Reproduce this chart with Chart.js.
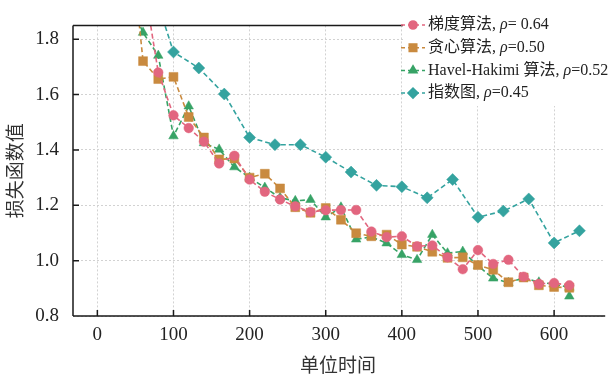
<!DOCTYPE html>
<html><head><meta charset="utf-8">
<script src="https://cdn.jsdelivr.net/npm/chart.js@4/dist/chart.umd.min.js"></script>
<style>html,body{margin:0;padding:0;background:#fff;overflow:hidden}canvas{display:block}</style>
</head><body>
<canvas id="c" width="610" height="379"></canvas>
<script>
// ---- data ----
const seriesNames = ['梯度算法', '贪心算法', 'Havel-Hakimi 算法', '指数图'];
const rhoTexts = ['= 0.64', '=0.50', '=0.52', '=0.45'];

const gradX = [60,80,100,120,140,160,180,200,220,240,260,280,300,320,340,360,380,400,420,440,460,480,500,520,540,560,580,600,620];
const gradY = [2.02,1.68,1.525,1.479,1.43,1.351,1.379,1.293,1.249,1.221,1.196,1.176,1.182,1.183,1.183,1.105,1.085,1.088,1.052,1.055,1.012,0.969,1.038,0.988,1.003,0.942,0.916,0.919,0.911];

const greedyX = [40,60,80,100,120,140,160,180,200,220,240,260,280,300,320,340,360,380,400,420,440,460,480,500,520,540,560,580,600,620];
const greedyY = [2.26,1.721,1.656,1.664,1.519,1.445,1.366,1.369,1.30,1.314,1.261,1.193,1.173,1.19,1.148,1.099,1.088,1.094,1.058,1.05,1.032,1.01,1.012,0.984,0.967,0.922,0.939,0.911,0.905,0.902];

const havelX = [40,60,80,100,120,140,160,180,200,220,240,260,280,300,320,340,360,380,400,420,440,460,480,500,520,540,560,580,600,620,620];
const havelY = [1.95,1.824,1.741,1.45,1.558,1.425,1.402,1.338,1.30,1.264,1.227,1.216,1.22,1.157,1.193,1.077,1.086,1.063,1.021,1.003,1.094,1.027,1.033,0.981,0.936,0.92,0.938,0.922,0.915,0.903,0.871];

const expX = [66.7,100,133.3,166.7,200,233.3,266.7,300,333.3,366.7,400,433.3,466.7,500,533.3,566.7,600,633.3];
const expY = [2.04,1.754,1.696,1.602,1.445,1.419,1.419,1.374,1.320,1.272,1.267,1.227,1.293,1.157,1.179,1.223,1.064,1.108];

const xTickValues = [0, 100, 200, 300, 400, 500, 600];
const yTickValues = [0.8, 1.0, 1.2, 1.4, 1.6, 1.8];

// ---- styling ----
const colors = ['#e2667f', '#c98a3f', '#37a366', '#34a39f'];
const styles = ['circle', 'rect', 'triangle', 'rectRot'];
const radii = [4.8, 6.3, 5.5, 6];
const xsAll = [gradX, greedyX, havelX, expX];
const ysAll = [gradY, greedyY, havelY, expY];

const datasets = seriesNames.map((n, i) => ({
  label: n,
  data: xsAll[i].map((x, k) => ({x: x, y: ysAll[i][k]})),
  borderColor: colors[i],
  backgroundColor: colors[i],
  pointBackgroundColor: colors[i],
  pointBorderColor: colors[i],
  borderWidth: 1.6,
  borderDash: [5, 3],
  pointStyle: styles[i],
  pointRadius: radii[i],
  pointBorderWidth: 0.5,
  tension: 0,
  fill: false
}));

const serif = "'Liberation Serif', 'Times New Roman', Tinos, 'DejaVu Serif', 'Noto Sans CJK SC', serif";

const framePlugin = {
  id: 'frame',
  afterDraw(chart) {
    const ctx = chart.ctx, a = chart.chartArea;
    const xs = chart.scales.x, ys = chart.scales.y;
    ctx.save();
    ctx.strokeStyle = '#1a1a1a';
    ctx.lineWidth = 1.5;
    ctx.setLineDash([]);
    ctx.beginPath();
    ctx.moveTo(a.left, a.top); ctx.lineTo(a.right + 2, a.top);
    ctx.moveTo(a.left, a.top); ctx.lineTo(a.left, a.bottom);
    ctx.moveTo(a.left, a.bottom); ctx.lineTo(a.right + 2, a.bottom);
    xs.ticks.forEach(t => { const p = xs.getPixelForValue(t.value); ctx.moveTo(p, a.bottom); ctx.lineTo(p, a.bottom - 6); });
    ys.ticks.forEach(t => { const p = ys.getPixelForValue(t.value); ctx.moveTo(a.left, p); ctx.lineTo(a.left + 6, p); });
    ctx.stroke();

    // legend
    const lx = 403, ly = 9;
    ctx.fillStyle = '#ffffff';
    ctx.fillRect(lx, ly, 220, 97);
    chart.data.datasets.forEach((ds, i) => {
      const y = 25 + i * 22.7;
      ctx.strokeStyle = ds.borderColor;
      ctx.lineWidth = 1.5;
      ctx.setLineDash([4, 3]);
      ctx.beginPath(); ctx.moveTo(401, y); ctx.lineTo(425, y); ctx.stroke();
      ctx.setLineDash([]);
      ctx.fillStyle = ds.borderColor;
      Chart.helpers.drawPoint(ctx, {pointStyle: ds.pointStyle, radius: ds.pointRadius * 0.85, borderWidth: 0.5, rotation: 0}, 413, y);
      ctx.fillStyle = '#222';
      ctx.textBaseline = 'middle';
      ctx.textAlign = 'left';
      let x = 428;
      ctx.font = '16px ' + serif;
      const s1 = ds.label + ', ';
      ctx.fillText(s1, x, y); x += ctx.measureText(s1).width;
      ctx.font = 'italic 16px ' + serif;
      ctx.fillText('ρ', x, y); x += ctx.measureText('ρ').width;
      ctx.font = '16px ' + serif;
      ctx.fillText(rhoTexts[i], x, y);
    });
    ctx.restore();
  }
};

new Chart(document.getElementById('c'), {
  type: 'line',
  data: { datasets: datasets },
  plugins: [framePlugin],
  options: {
    responsive: false,
    animation: false,
    layout: { padding: { top: 6, left: 0, right: 0, bottom: 0 } },
    plugins: { legend: { display: false }, tooltip: { enabled: false } },
    scales: {
      x: {
        type: 'linear',
        min: -32, max: 664.5,
        afterFit: s => { s.height = 63; },
        afterBuildTicks: s => { s.ticks = xTickValues.map(v => ({ value: v })); },
        ticks: { padding: 8, color: '#222', maxRotation: 0, autoSkip: false,
                 font: { family: serif, size: 19 }, callback: v => String(v) },
        grid: { color: '#d2d2d2', lineWidth: 1, drawTicks: false },
        border: { display: false, dash: [2, 2] },
        title: { display: true, text: '单位时间', color: '#333', font: { family: serif, size: 19 }, padding: { top: 0, bottom: 1 } }
      },
      y: {
        min: 0.8, max: 1.85,
        afterFit: s => { s.width = 73; },
        afterBuildTicks: s => { s.ticks = yTickValues.map(v => ({ value: v })); },
        ticks: { padding: 14, color: '#222', autoSkip: false,
                 font: { family: serif, size: 19 }, callback: v => Number(v).toFixed(1) },
        grid: { color: '#d2d2d2', lineWidth: 1, drawTicks: false },
        border: { display: false, dash: [2, 2] },
        title: { display: true, text: '损失函数值', color: '#333', font: { family: serif, size: 19 }, padding: { top: 6, bottom: 0 } }
      }
    }
  }
});
</script>
</body></html>
